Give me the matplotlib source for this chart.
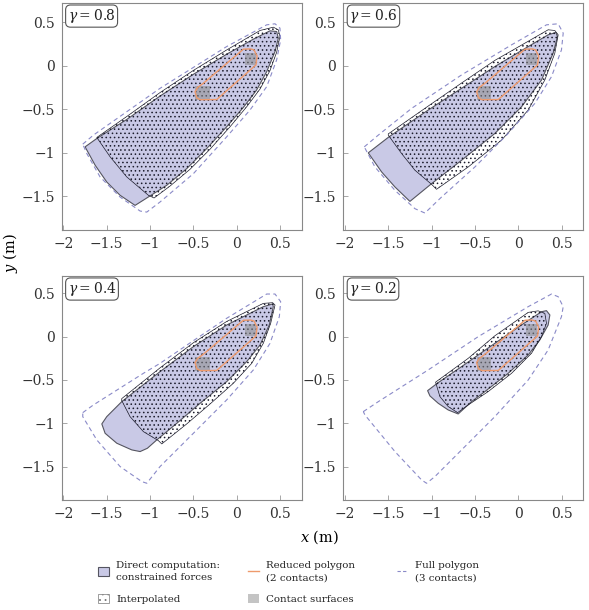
import numpy as np
import matplotlib.pyplot as plt
from matplotlib.patches import Polygon, Rectangle, Patch
from matplotlib.lines import Line2D
from matplotlib.ticker import FuncFormatter

plt.rcParams['font.family'] = 'DejaVu Serif'
plt.rcParams['mathtext.fontset'] = 'dejavuserif'
plt.rcParams['hatch.linewidth'] = 0.6

# --- data (metres) ---
gammas = ['0.8', '0.6', '0.4', '0.2']
ticks = [-2, -1.5, -1, -0.5, 0, 0.5]
yticks = [-1.5, -1, -0.5, 0, 0.5]

# reduced polygon (2 contacts), same for every gamma
reduced = [(-0.481, -0.300), (-0.460, -0.370), (-0.420, -0.392), (-0.231, -0.390),
           (0.222, 0.008), (0.235, 0.110), (0.200, 0.180), (0.160, 0.192),
           (0.077, 0.189), (-0.385, -0.203), (-0.450, -0.250)]

# contact surfaces: x0, y0, width, height
contacts = [(-0.48, -0.40, 0.17, 0.16), (0.09, 0.01, 0.13, 0.14)]

direct_08 = [(-1.750, -0.934), (-1.615, -0.838), (-1.269, -0.619), (-0.885, -0.350),
             (-0.500, -0.100), (-0.116, 0.131), (0.192, 0.304), (0.384, 0.400),
             (0.461, 0.392), (0.480, 0.316), (0.442, 0.162), (0.346, -0.069),
             (0.230, -0.280), (0.077, -0.480), (-0.116, -0.703), (-0.346, -0.953),
             (-0.577, -1.184), (-0.808, -1.376), (-1.008, -1.503), (-1.173, -1.607),
             (-1.346, -1.491), (-1.500, -1.338), (-1.634, -1.145)]
interp_08 = [(-1.615, -0.826), (-1.461, -1.049), (-1.269, -1.280), (-1.019, -1.491),
             (-0.954, -1.522), (-0.769, -1.384), (-0.539, -1.192), (-0.308, -0.961),
             (-0.077, -0.703), (0.115, -0.473), (0.269, -0.269), (0.384, -0.057),
             (0.461, 0.154), (0.499, 0.335), (0.480, 0.412), (0.423, 0.442),
             (0.269, 0.404), (-0.116, 0.180), (-0.500, -0.055), (-0.885, -0.310),
             (-1.269, -0.585)]
full_08 = [(-1.777, -0.903), (-1.654, -0.799), (-0.885, -0.261), (-0.116, 0.219),
           (0.346, 0.469), (0.442, 0.481), (0.499, 0.431), (0.507, 0.296),
           (0.461, 0.066), (0.346, -0.242), (0.153, -0.511), (-0.116, -0.819),
           (-0.500, -1.242), (-0.885, -1.568), (-1.038, -1.684), (-1.115, -1.672),
           (-1.346, -1.511), (-1.577, -1.280), (-1.730, -1.011)]

direct_06 = [(-1.732, -1.003), (-1.493, -0.819), (-1.040, -0.511), (-0.655, -0.261),
             (-0.271, -0.011), (0.114, 0.219), (0.344, 0.354), (0.433, 0.381),
             (0.452, 0.335), (0.402, 0.143), (0.268, -0.165), (0.037, -0.473),
             (-0.271, -0.780), (-0.655, -1.088), (-1.001, -1.357), (-1.251, -1.561),
             (-1.424, -1.395), (-1.578, -1.222)]
interp_06 = [(-1.501, -0.799), (-1.347, -1.011), (-1.193, -1.203), (-1.001, -1.365),
             (-0.944, -1.422), (-0.578, -1.165), (-0.194, -0.857), (0.114, -0.511),
             (0.306, -0.165), (0.421, 0.142), (0.460, 0.354), (0.421, 0.404),
             (0.344, 0.412), (0.114, 0.280), (-0.271, 0.060), (-0.655, -0.200),
             (-1.040, -0.465), (-1.501, -0.785)]
full_06 = [(-1.778, -0.934), (-1.616, -0.799), (-1.232, -0.492), (-0.655, -0.107),
           (-0.078, 0.239), (0.325, 0.469), (0.460, 0.481), (0.518, 0.373),
           (0.498, 0.181), (0.383, -0.127), (0.191, -0.434), (-0.117, -0.780),
           (-0.501, -1.165), (-0.886, -1.511), (-1.078, -1.695), (-1.193, -1.645),
           (-1.424, -1.434), (-1.655, -1.165)]

direct_04 = [(-1.327, -0.750), (-1.500, -0.923), (-1.557, -1.007), (-1.519, -1.115),
             (-1.384, -1.230), (-1.211, -1.307), (-1.115, -1.326), (-1.031, -1.288),
             (-0.923, -1.192), (-0.692, -1.000), (-0.423, -0.769), (-0.116, -0.519),
             (0.115, -0.288), (0.269, -0.096), (0.376, 0.135), (0.422, 0.346),
             (0.415, 0.377), (0.307, 0.346), (-0.116, 0.134), (-0.500, -0.115),
             (-0.885, -0.404)]
interp_04 = [(-1.327, -0.738), (-1.231, -0.923), (-1.077, -1.096), (-0.904, -1.200),
             (-0.865, -1.238), (-0.577, -1.007), (-0.308, -0.777), (-0.039, -0.538),
             (0.173, -0.308), (0.307, -0.077), (0.392, 0.154), (0.442, 0.365),
             (0.415, 0.392), (0.307, 0.384), (-0.116, 0.175), (-0.500, -0.070),
             (-0.885, -0.360), (-1.327, -0.715)]
full_04 = [(-1.777, -0.877), (-1.654, -0.788), (-1.077, -0.423), (-0.885, -0.308),
           (-0.500, -0.046), (-0.116, 0.212), (0.346, 0.492), (0.442, 0.492),
           (0.507, 0.404), (0.492, 0.231), (0.384, -0.077), (0.192, -0.384),
           (-0.116, -0.730), (-0.500, -1.115), (-0.885, -1.499), (-1.038, -1.692),
           (-1.096, -1.672), (-1.346, -1.499), (-1.615, -1.192), (-1.777, -0.923)]

direct_02 = [(-1.047, -0.623), (-0.924, -0.530), (-0.655, -0.346), (-0.271, -0.077),
             (0.037, 0.135), (0.268, 0.288), (0.325, 0.300), (0.364, 0.250),
             (0.344, 0.134), (0.248, -0.038), (0.114, -0.211), (-0.117, -0.423),
             (-0.386, -0.634), (-0.540, -0.750), (-0.694, -0.892), (-0.809, -0.846),
             (-0.924, -0.769), (-1.020, -0.684)]
interp_02 = [(-0.955, -0.525), (-0.905, -0.692), (-0.809, -0.807), (-0.701, -0.877),
             (-0.578, -0.788), (-0.348, -0.634), (-0.078, -0.423), (0.152, -0.192),
             (0.268, 0.000), (0.325, 0.154), (0.306, 0.269), (0.229, 0.298),
             (0.114, 0.280), (-0.271, 0.010), (-0.578, -0.250)]
full_02 = [(-1.789, -0.865), (-1.616, -0.750), (-1.040, -0.384), (-0.463, 0.000),
           (0.114, 0.346), (0.383, 0.492), (0.460, 0.461), (0.518, 0.346),
           (0.498, 0.231), (0.344, -0.154), (0.114, -0.500), (-0.271, -0.923),
           (-0.655, -1.307), (-0.963, -1.615), (-1.059, -1.692), (-1.117, -1.653),
           (-1.424, -1.326), (-1.770, -0.904)]

directs = [direct_08, direct_06, direct_04, direct_02]
interps = [interp_08, interp_06, interp_04, interp_02]
fulls = [full_08, full_06, full_04, full_02]

# --- styles ---
c_direct = '#c9c9e6'
c_edge = '#555560'
c_reduced = '#ee9a6c'
c_full = '#8a8ac8'
c_contact = '#8c8c8c'

fig = plt.figure(figsize=(5.89, 6.10), dpi=100)
W, H = 589, 610
boxes = [(61.7, 3, 240, 227), (343.3, 3, 240, 227),
         (61.7, 276, 240, 224), (343.3, 276, 240, 224)]
ylims = [(-1.89, 0.72), (-1.89, 0.72), (-1.885, 0.70), (-1.885, 0.70)]

fmt = FuncFormatter(lambda v, p: ('%g' % v).replace('-', '\u2212'))

for i in range(4):
    l, t, w, h = boxes[i]
    ax = fig.add_axes([l / W, 1 - (t + h) / H, w / W, h / H])
    ax.add_patch(Polygon(directs[i], closed=True, facecolor=c_direct,
                         edgecolor=c_edge, lw=0.8, zorder=1))
    ax.add_patch(Polygon(interps[i], closed=True, facecolor='none',
                         edgecolor='#1c1c2c', hatch='....', lw=0.5, zorder=2))
    for (x0, y0, cw, ch) in contacts:
        ax.add_patch(Rectangle((x0, y0), cw, ch, facecolor=c_contact,
                               edgecolor='none', alpha=0.55, zorder=3))
    ax.add_patch(Polygon(reduced, closed=True, facecolor='none',
                         edgecolor=c_reduced, lw=1.0, zorder=4))
    ax.add_patch(Polygon(fulls[i], closed=True, facecolor='none',
                         edgecolor=c_full, lw=0.8, ls=(0, (4, 3)), zorder=4))

    ax.set_xlim(-2.02, 0.75)
    ax.set_ylim(*ylims[i])
    ax.set_xticks(ticks)
    ax.set_yticks(yticks)
    ax.xaxis.set_major_formatter(fmt)
    ax.yaxis.set_major_formatter(fmt)
    ax.tick_params(direction='in', length=3.5, width=0.6, color='#999999',
                   labelsize=10, labelcolor='#333333', pad=5)
    for s in ax.spines.values():
        s.set_color('#888888')
        s.set_linewidth(0.8)

    ax.text(0.025, 0.982, r'$\gamma = %s$' % gammas[i], transform=ax.transAxes,
            ha='left', va='top', fontsize=10, color='#222222', zorder=6,
            bbox=dict(boxstyle='round,pad=0.15,rounding_size=0.35',
                      facecolor='white', edgecolor='#555555', lw=0.8))

fig.text(320 / W, 1 - 537 / H, r'$x$ (m)', ha='center', va='center', fontsize=10.5)
fig.text(10 / W, 1 - 253 / H, r'$y$ (m)', ha='center', va='center', fontsize=10.5,
         rotation=90)

# --- legend, three columns ---
leg_kw = dict(loc='upper left', frameon=False, fontsize=7.4, handlelength=1.05,
              handleheight=1.0, handletextpad=0.7, labelspacing=1.1,
              borderpad=0, borderaxespad=0, labelcolor='#222222')
h_direct = Patch(facecolor=c_direct, edgecolor=c_edge, lw=0.8)
h_interp = Patch(facecolor='white', edgecolor='#777777', hatch='...', lw=0.5)
h_reduced = Line2D([], [], color=c_reduced, lw=1.0)
h_contact = Patch(facecolor='#c4c4c4', edgecolor='none')
h_full = Line2D([], [], color=c_full, lw=0.8, ls=(0, (3, 2)))

legs = [
    fig.legend([h_direct, h_interp], ['Direct computation:\nconstrained forces', 'Interpolated'],
               bbox_to_anchor=(98 / W, 1 - 561 / H), **leg_kw),
    fig.legend([h_reduced, h_contact], ['Reduced polygon\n(2 contacts)', 'Contact surfaces'],
               bbox_to_anchor=(248 / W, 1 - 561 / H), **leg_kw),
    fig.legend([h_full], ['Full polygon\n(3 contacts)'],
               bbox_to_anchor=(397 / W, 1 - 561 / H), **leg_kw),
]
for leg in legs:
    for t in leg.get_texts():
        t.set_linespacing(1.5)

fig.savefig('out.png', dpi=100)
